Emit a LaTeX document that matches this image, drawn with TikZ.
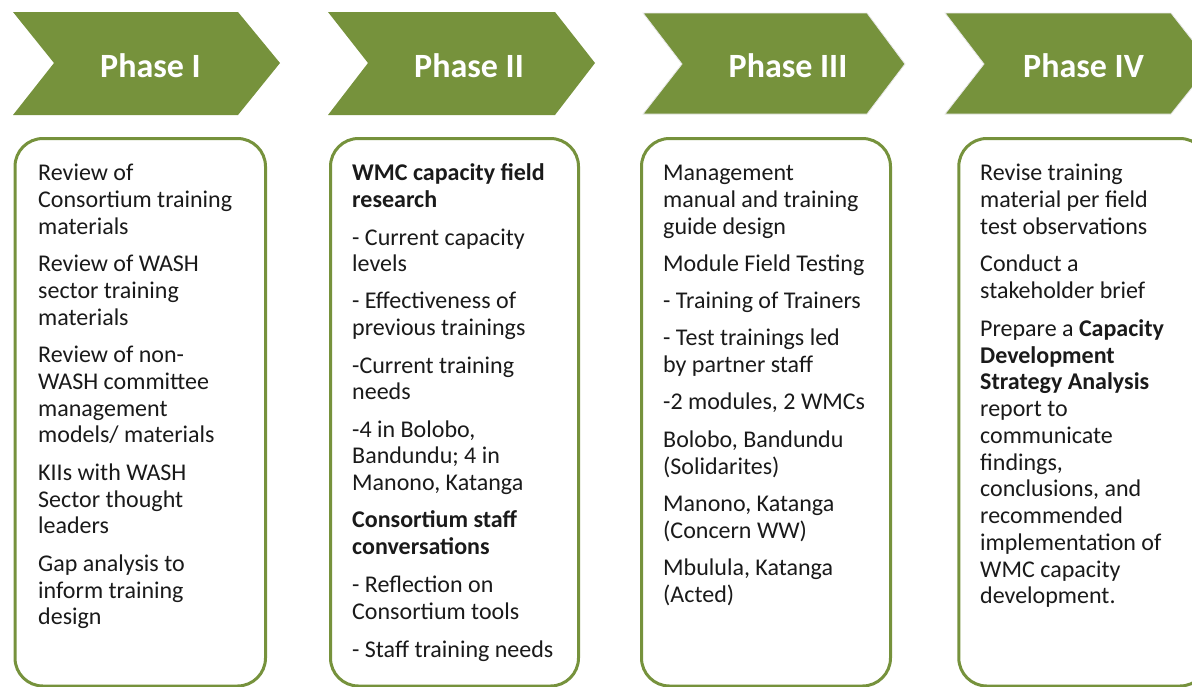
\documentclass[tikz,border=0pt]{standalone}
\usepackage{fontspec}
\setmainfont{Carlito}
\definecolor{phasegreen}{HTML}{76923C}
\definecolor{bodytext}{HTML}{1A1A1A}

\tikzset{
  chevron/.style={fill=phasegreen},
  chevronedge/.style={chevron, draw=gray!18, line width=0.8pt},
  phasebox/.style={draw=phasegreen, line width=3pt, rounded corners=28pt, fill=white},
  phasetitle/.style={text=white, anchor=base, inner sep=0pt,
    font=\fontsize{34}{40}\selectfont\bfseries},
  body/.style={anchor=north west, inner sep=0pt, align=left, text=bodytext,
    font=\fontsize{24}{26.75}\selectfont},
}
\newcommand{\firstline}{\rule{0pt}{20pt}}

\begin{document}
\begin{tikzpicture}[x=1pt, y=-1pt]
\useasboundingbox (0,0) rectangle (1192,686);
\clip (0,0) rectangle (1192,686);

% phase chevrons
\fill[chevron]     (13,12)  -- (238,12)  -- (280,63)  -- (238,115)  -- (13,115)  -- (54,63)  -- cycle;
\fill[chevron]     (328,12) -- (555,12)  -- (595,63)  -- (555,115)  -- (328,115) -- (368,63) -- cycle;
\draw[chevronedge] (643,13) -- (867,13)  -- (905,64)  -- (867,114)  -- (643,114) -- (682,64) -- cycle;
\draw[chevronedge] (945,13) -- (1171,13) -- (1211,64) -- (1171,114) -- (945,114) -- (984,64) -- cycle;

\node[phasetitle] (t1) at (150.5,77) {Phase I};
\node[phasetitle] (t2) at (469,77)   {Phase II};
\node[phasetitle] (t3) at (788,77)   {Phase III};
\node[phasetitle] (t4) at (1083.5,77) {Phase IV};

% activity boxes
\draw[phasebox] (15,138.5)    rectangle (265.5,686);
\draw[phasebox] (330.5,138.5) rectangle (578.5,686);
\draw[phasebox] (641.5,138.5) rectangle (890.5,686);
\draw[phasebox] (958.8,138.5) rectangle (1208,686);

\node[body] (b1) at (38,160.5) {\firstline Review of\\
  Consortium training\\ materials\\[10.75pt]
  Review of WASH\\ sector training\\ materials\\[10.75pt]
  Review of non-\\ WASH committee\\ management\\ models/ materials\\[10.75pt]
  KIIs with WASH\\ Sector thought\\ leaders\\[10.75pt]
  Gap analysis to\\ inform training\\ design};

\node[body] (b2) at (352,160.5) {\firstline\textbf{WMC capacity field}\\
  \textbf{research}\\[11pt]
  - Current capacity\\ levels\\[10pt]
  - Effectiveness of\\ previous trainings\\[11pt]
  -Current training\\ needs\\[10.5pt]
  -4 in Bolobo,\\ Bandundu; 4 in\\ Manono, Katanga\\[10.5pt]
  \textbf{Consortium staff}\\ \textbf{conversations}\\[11pt]
  - Reflection on\\ Consortium tools\\[11.5pt]
  - Staff training needs};

\node[body] (b3) at (663,160.5) {\firstline Management\\
  manual and training\\ guide design\\[10.5pt]
  Module Field Testing\\[10.5pt]
  - Training of Trainers\\[10.5pt]
  - Test trainings led\\ by partner staff\\[10.5pt]
  -2 modules, 2 WMCs\\[10.75pt]
  Bolobo, Bandundu\\ (Solidarites)\\[10.75pt]
  Manono, Katanga\\ (Concern WW)\\[10.5pt]
  Mbulula, Katanga\\ (Acted)};

\node[body] (b4) at (980,160.5) {\firstline Revise training\\
  material per field\\ test observations\\[11pt]
  Conduct a\\ stakeholder brief\\[11pt]
  Prepare a \textbf{Capacity}\\ \textbf{Development}\\ \textbf{Strategy Analysis}\\
  report to\\ communicate\\ findings,\\ conclusions, and\\ recommended\\
  implementation of\\ WMC capacity\\ development.};
\end{tikzpicture}
\end{document}
